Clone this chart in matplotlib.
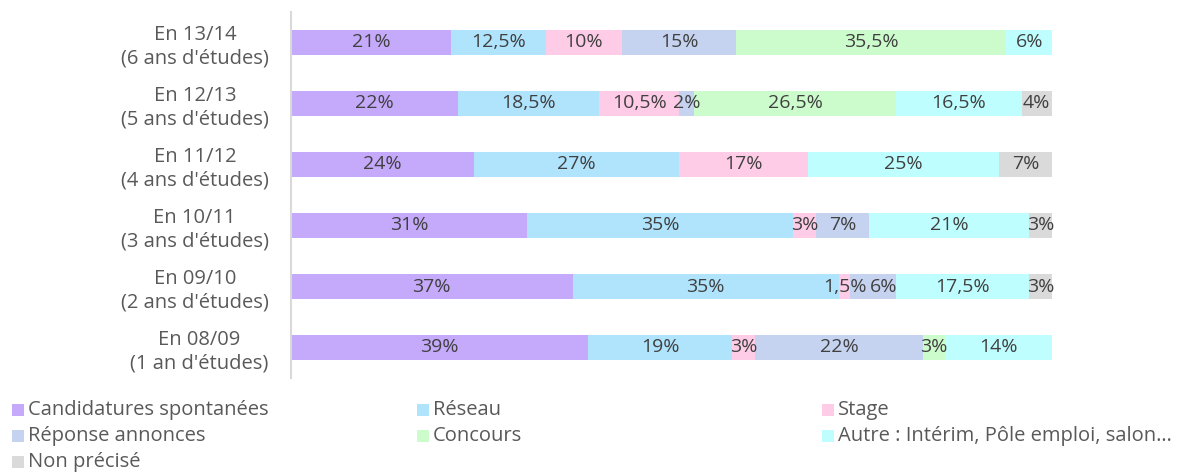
import matplotlib.pyplot as plt
from matplotlib.patches import Rectangle

plt.rcParams['font.family'] = ['Open Sans', 'DejaVu Sans']

# Années (de haut en bas) et part de chaque mode d'accès à l'emploi, en %
annees = ["En 13/14\n(6 ans d'études)", "En 12/13\n(5 ans d'études)", "En 11/12\n(4 ans d'études)",
          "En 10/11\n(3 ans d'études)", "En 09/10\n(2 ans d'études)", "En 08/09\n(1 an d'études)"]

candidatures = [21, 22, 24, 31, 37, 39]
reseau = [12.5, 18.5, 27, 35, 35, 19]
stage = [10, 10.5, 17, 3, 1.5, 3]
reponse = [15, 2, 0, 7, 6, 22]
concours = [35.5, 26.5, 0, 0, 0, 3]
autre = [6, 16.5, 25, 21, 17.5, 14]
non_precise = [0, 4, 7, 3, 3, 0]

series = [
    ("Candidatures spontanées", candidatures, "#C5A9FB"),
    ("Réseau", reseau, "#B0E3FC"),
    ("Stage", stage, "#FECCE6"),
    ("Réponse annonces", reponse, "#C5D3F0"),
    ("Concours", concours, "#CCFCCC"),
    ("Autre : Intérim, Pôle emploi, salon…", autre, "#BFFEFE"),
    ("Non précisé", non_precise, "#DADADA"),
]

fig = plt.figure(figsize=(11.91, 4.72), dpi=100)
ax = fig.add_axes([291 / 1191, 1 - 378 / 472, 761 / 1191, 366 / 472])

y = list(range(len(annees)))
gauche = [0] * len(annees)
etiquettes = [[] for _ in annees]
for nom, valeurs, couleur in series:
    barres = ax.barh(y, valeurs, left=gauche, height=0.4, color=couleur, linewidth=0)
    for i, (b, v) in enumerate(zip(barres, valeurs)):
        if v > 0:
            txt = f"{v:g}".replace(".", ",") + "%"
            t = ax.text(b.get_x() + b.get_width() / 2, b.get_y() + b.get_height() / 2, txt,
                        ha="center", va="center", fontsize=14, color="#404040")
            etiquettes[i].append(t)
    gauche = [g + v for g, v in zip(gauche, valeurs)]

ax.set_xlim(0, 100)
ax.set_ylim(len(annees) - 0.5, -0.5)
ax.set_yticks(y)
ax.set_yticklabels(annees, multialignment="center", fontsize=14.5, color="#595959",
                   linespacing=1.25)
ax.tick_params(axis="y", length=0, pad=16)
ax.set_xticks([])
for s in ["top", "right", "bottom"]:
    ax.spines[s].set_visible(False)
ax.spines["left"].set_color("#D9D9D9")
ax.spines["left"].set_linewidth(1.5)

# décale vers la droite les étiquettes qui se chevauchent dans les petits segments
fig.canvas.draw()
rend = fig.canvas.get_renderer()
px_par_unite = ax.transData.transform((1, 0))[0] - ax.transData.transform((0, 0))[0]
for ligne in etiquettes:
    fin = None
    for t in ligne:
        bb = t.get_window_extent(rend)
        if fin is not None and bb.x0 < fin + 3:
            dx = (fin + 3 - bb.x0) / px_par_unite
            x, yy = t.get_position()
            t.set_position((x + dx, yy))
            bb = t.get_window_extent(rend)
        fin = bb.x1

# Légende sur trois colonnes
col_x = [12, 417, 822]
row_y = [410, 436, 462]
for i, (nom, _, couleur) in enumerate(series):
    cx = col_x[i % 3]
    cy = row_y[i // 3]
    fig.add_artist(Rectangle((cx / 1191, 1 - (cy + 6) / 472), 12 / 1191, 12 / 472,
                             transform=fig.transFigure, color=couleur, linewidth=0))
    fig.text((cx + 16) / 1191, 1 - cy / 472, nom, ha="left", va="center",
             fontsize=14.5, color="#595959")

fig.savefig("out.png", dpi=100)
